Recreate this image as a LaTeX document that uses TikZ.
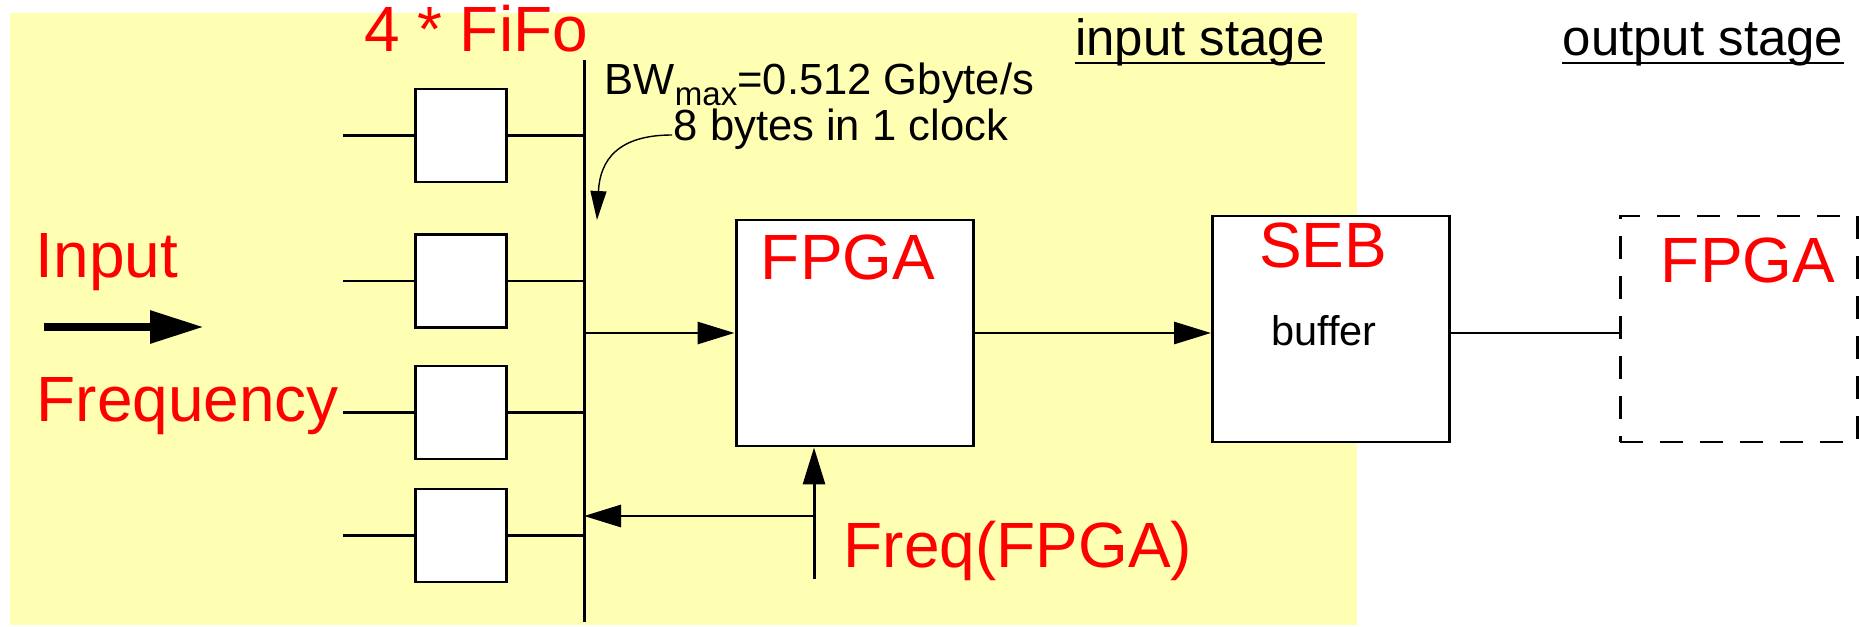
\documentclass[tikz,border=0pt]{standalone}
\usepackage{fontspec}
\setmainfont{Liberation Sans}
\usetikzlibrary{arrows.meta}
\definecolor{stagebg}{RGB}{255,255,180}

\begin{document}
\begin{tikzpicture}[
  font=\fontsize{18.2}{22}\selectfont,
  box/.style={draw, fill=white, line width=0.85pt, inner sep=0pt},
  fifo/.style={box, minimum width=0.91cm, minimum height=0.93cm},
  chip/.style={box, minimum width=2.37cm, minimum height=2.26cm},
  redlbl/.style={text=red, inner sep=0pt, anchor=base},
  blklbl/.style={inner sep=0pt, anchor=base},
  wire/.style={line width=0.85pt},
  arr/.style={wire, -{Triangle[length=3.7mm,width=2.2mm]}},
  stagefont/.style={font=\fontsize{14.5}{17}\selectfont},
  notefont/.style={font=\fontsize{12.4}{15}\selectfont}
]
\useasboundingbox (0,0) rectangle (18.59,6.26);
\fill[stagebg] (0.10,0.01) rectangle (13.57,6.13);

% fifos and bus
\node[fifo] (f1) at (4.61,4.905) {};
\node[fifo] (f2) at (4.61,3.45) {};
\node[fifo] (f3) at (4.61,2.135) {};
\node[fifo] (f4) at (4.61,0.905) {};
\coordinate (bustop) at (5.84,5.66);
\coordinate (busbot) at (5.84,0.04);
\coordinate (stub) at (3.43,0);
\draw[wire] (bustop) -- (busbot);
\draw[wire] (f1.west -| stub) -- (f1.west);
\draw[wire] (f2.west -| stub) -- (f2.west);
\draw[wire] (f3.west -| stub) -- (f3.west);
\draw[wire] (f4.west -| stub) -- (f4.west);
\draw[wire] (f1.east) -- (f1.east -| bustop);
\draw[wire] (f2.east) -- (f2.east -| bustop);
\draw[wire] (f3.east) -- (f3.east -| bustop);
\draw[wire] (f4.east) -- (f4.east -| bustop);

% chips
\node[chip] (fpga) at (8.545,2.93) {};
\node[chip] (seb) at (13.31,2.97) {};
\node[chip, dash pattern=on 2.3mm off 1.7mm] (outfpga) at (17.385,2.97) {};
\draw[arr] (fpga.west -| bustop) -- (fpga.west);
\draw[arr] (fpga.east) -- (fpga.east -| seb.west);
\draw[wire] (seb.east |- fpga.east) -- (outfpga.west |- fpga.east);

% clock feedback
\coordinate (fclk) at (8.14,0.47);
\coordinate (fjoin) at (8.14,1.10);
\draw[arr] (fclk) -- (fclk |- fpga.south);
\draw[arr] (fjoin) -- (fjoin -| bustop);

% input arrow
\coordinate (inA) at (0.44,2.99);
\coordinate (inB) at (2.04,2.99);
\draw[line width=2.55pt, -{Triangle[length=5.4mm,width=3.1mm]}] (inA) -- (inB);

% labels
\node[redlbl] (fifolbl) at (4.76,5.74) {4 * FiFo};
\node[redlbl, anchor=base west] (inlbl) at (0.35,3.48) {Input};
\node[redlbl, anchor=base west] (freqlbl) at (0.36,2.05) {Frequency};
\node[redlbl] (fpgalbl) at (8.48,3.47) {FPGA};
\node[redlbl] (seblbl) at (13.23,3.59) {SEB};
\node[redlbl] (outlbl) at (17.48,3.44) {FPGA};
\node[redlbl] (clklbl) at (10.18,0.59) {Freq(FPGA)};
\node[blklbl, font=\fontsize{11.8}{14}\selectfont] (buflbl) at (13.24,2.81) {buffer};
\node[blklbl, stagefont] (instage) at (12.0,5.70) {input stage};
\node[blklbl, stagefont] (outstage) at (17.03,5.70) {output stage};
\draw[wire] ([yshift=-0.7mm]instage.base west) -- ([yshift=-0.7mm]instage.base east);
\draw[wire] ([yshift=-0.7mm]outstage.base west) -- ([yshift=-0.7mm]outstage.base east);

% bandwidth note
\node[blklbl, anchor=base west, notefont] (bw) at (6.04,5.31)
  {BW\raisebox{-1.1mm}{\fontsize{9.4}{11}\selectfont max}=0.512 Gbyte/s};
\node[blklbl, anchor=base west, notefont] (bytes) at (6.73,4.85) {8 bytes in 1 clock};
\coordinate (bwfrom) at (6.72,4.91);
\coordinate (bwto) at (5.97,4.06);
\draw[line width=0.4pt, -{Triangle[length=2.9mm,width=1.6mm]}] (bwfrom) .. controls +(-0.54,0) and +(0.03,0.6) .. (bwto);
\end{tikzpicture}
\end{document}
